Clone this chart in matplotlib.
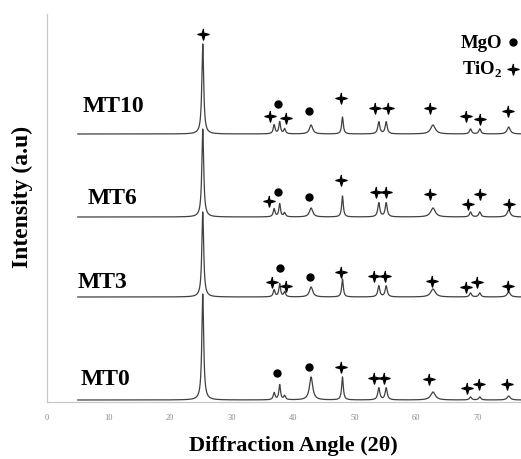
"""Stacked XRD patterns of the MT samples with MgO / TiO2 phase markers."""

import numpy as np
import matplotlib

matplotlib.use("Agg")
import matplotlib.pyplot as plt
from matplotlib.path import Path

plt.rcParams["font.family"] = ["Liberation Serif", "DejaVu Serif"]
plt.rcParams["mathtext.fontset"] = "custom"
plt.rcParams["mathtext.rm"] = "Liberation Serif"
plt.rcParams["mathtext.bf"] = "Liberation Serif:bold"

# sample names, bottom to top, and the vertical offset of each trace
samples = ["MT0", "MT3", "MT6", "MT10"]
offsets = [2, 105, 185, 268]

# peak centres (2θ) and half-widths shared by all patterns
peak_pos = [25.3, 36.9, 37.8, 38.6, 42.9, 48.0, 53.9, 55.1, 62.7, 68.8, 70.3, 75.0]
peak_hw = [0.18, 0.18, 0.16, 0.18, 0.32, 0.16, 0.2, 0.2, 0.45, 0.2, 0.2, 0.3]

# peak heights per sample (same order as peak_pos)
heights = {
    "MT0": [106, 7, 15, 4, 23, 23, 12, 12, 8, 3, 3, 4],
    "MT3": [85, 7, 13, 5, 10, 18, 11, 11, 8, 4, 4, 5],
    "MT6": [88, 8, 13, 4, 9, 21, 14, 14, 9, 5, 5, 7],
    "MT10": [90, 9, 12, 5, 9, 17, 12, 12, 9, 5, 5, 7],
}

# phase markers: (2θ, height above axis)
mgo_marks = {
    "MT0": [(37.4, 29), (42.6, 35)],
    "MT3": [(37.8, 134), (42.8, 125)],
    "MT6": [(37.6, 210), (42.5, 205)],
    "MT10": [(37.6, 298), (42.6, 291)],
}
tio2_marks = {
    "MT0": [(47.8, 35), (53.2, 24), (54.8, 24), (62.1, 23), (68.2, 14), (70.2, 18), (74.7, 18)],
    "MT3": [(36.5, 120), (38.9, 116), (47.8, 130), (53.2, 126), (54.9, 126), (62.6, 121),
            (68.1, 115), (69.9, 120), (74.9, 116)],
    "MT6": [(36.1, 201), (47.8, 222), (53.4, 210), (55.1, 210), (62.2, 208), (68.4, 198),
            (70.3, 208), (75.0, 198)],
    "MT10": [(25.3, 368), (36.3, 286), (38.9, 284), (47.8, 304), (53.3, 294), (55.4, 294),
             (62.2, 294), (68.0, 286), (70.3, 283), (74.9, 291)],
}

# label anchor (left x, centre y)
label_pos = {"MT0": (5.4, 23), "MT3": (5.0, 120), "MT6": (6.6, 204), "MT10": (5.8, 296)}

# four-pointed star like the one in the paper figure
_ang = np.deg2rad(np.arange(90, 450, 45))
_rad = np.tile([1.0, 0.3], 4)
STAR = Path(np.column_stack([_rad * np.cos(_ang), _rad * np.sin(_ang)]))


def pattern(x, hts):
    y = np.zeros_like(x)
    for p, w, h in zip(peak_pos, peak_hw, hts):
        y += h / (1 + ((x - p) / w) ** 2)
    return y


def main() -> None:
    fig = plt.figure(figsize=(5.21, 4.6), dpi=100)
    ax = fig.add_axes([47 / 521, 57 / 460, 474 / 521, 388 / 460])

    x = np.arange(5.0, 77.0, 0.01)
    for name, off in zip(samples, offsets):
        ax.plot(x, off + pattern(x, heights[name]), color="#404040", lw=0.9)
        mx, my = zip(*mgo_marks[name])
        ax.plot(mx, my, "o", color="black", ms=5, ls="none")
        tx, ty = zip(*tio2_marks[name])
        ax.plot(tx, ty, marker=STAR, color="black", ms=8, ls="none")
        lx, ly = label_pos[name]
        ax.text(lx, ly, name, fontsize=17, fontweight="bold", va="center", ha="left")

    ax.set_xlim(0, 77)
    ax.set_ylim(0, 388)
    ax.set_xticks(range(0, 80, 10))
    ax.set_yticks([])
    ax.tick_params(axis="x", length=0, pad=8, labelsize=6, labelcolor="#8a8a8a")
    for s in ("top", "right"):
        ax.spines[s].set_visible(False)
    for s in ("left", "bottom"):
        ax.spines[s].set_color("#c8c8c8")
        ax.spines[s].set_linewidth(0.9)

    fig.text(22 / 521, 1 - 197 / 460, "Intensity (a.u)", rotation=90, fontsize=17,
             fontweight="bold", ha="center", va="center")
    fig.text(293 / 521, 1 - 446 / 460, "Diffraction Angle (2θ)", fontsize=16,
             fontweight="bold", ha="center", va="center")

    # phase key in the top-right corner
    fig.text(502 / 521, 1 - 43 / 460, "MgO", fontsize=13.5, fontweight="bold",
             ha="right", va="center")
    fig.text(502 / 521, 1 - 70 / 460, r"TiO$_\mathbf{2}$", fontsize=13.5, fontweight="bold",
             ha="right", va="center")
    ax.plot([513 / 521], [1 - 43 / 460], "o", color="black", ms=5,
            transform=fig.transFigure, clip_on=False)
    ax.plot([513 / 521], [1 - 70 / 460], marker=STAR, color="black", ms=8,
            transform=fig.transFigure, clip_on=False)

    fig.savefig("out.png", dpi=100)


if __name__ == "__main__":
    main()
